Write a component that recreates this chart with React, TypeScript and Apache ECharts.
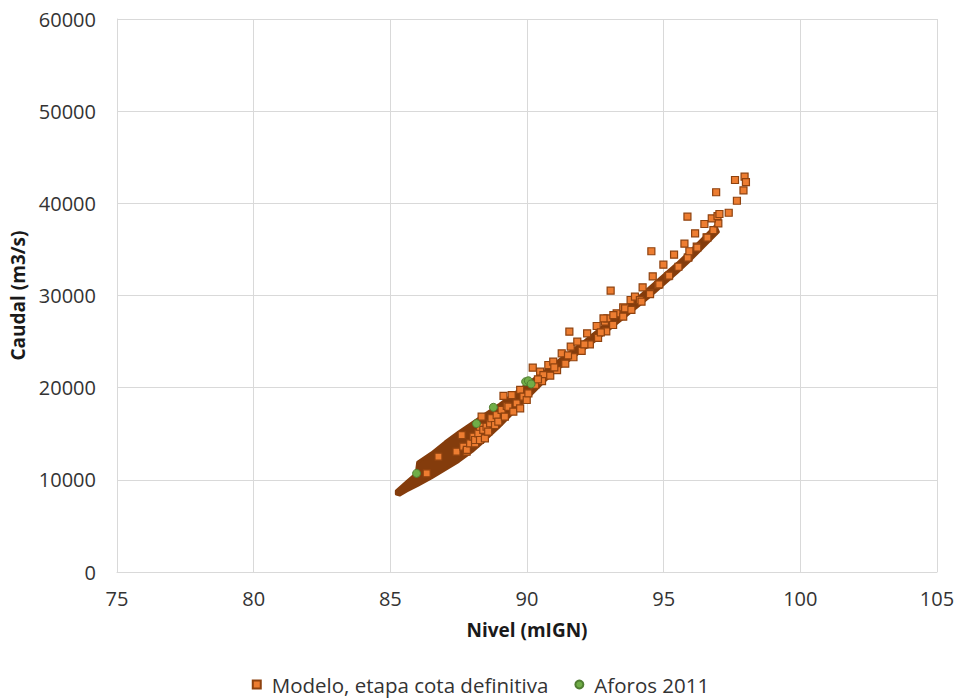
import React, { useEffect, useRef } from "react";
import * as echarts from "echarts";

// Tick labels / axis settings
const xTicks = [75, 80, 85, 90, 95, 100, 105];
const yTicks = [0, 10000, 20000, 30000, 40000, 50000, 60000];

const xName = "Nivel (mIGN)";
const yName = "Caudal (m3/s)";
const seriesModelo = "Modelo, etapa cota definitiva";
const seriesAforos = "Aforos 2011";

// Dense core of the model cloud (thousands of overlapping markers) – outline
const coreUpper: number[][] = [
  [85.22, 8800], [85.6, 9800], [85.95, 10700], [86.0, 11900], [86.5, 12900], [87.0, 14100],
  [87.5, 15200], [88.0, 16200], [88.5, 17200], [89.0, 18200], [89.5, 19300], [90.0, 20400],
  [90.5, 21500], [91.0, 22600], [91.5, 23700], [92.0, 24800], [92.5, 26000], [93.0, 27200],
  [93.5, 28400], [94.0, 29600], [94.5, 30900], [95.0, 32200], [95.5, 33500], [96.0, 34900],
  [96.5, 36400], [96.9, 37600],
];
const coreLower: number[][] = [
  [97.0, 36900], [96.5, 35400], [96.0, 33900], [95.5, 32500], [95.0, 31200], [94.5, 29900],
  [94.0, 28700], [93.5, 27500], [93.0, 26300], [92.5, 25100], [92.0, 24000], [91.5, 22900],
  [91.0, 21700], [90.5, 20300], [90.0, 18800], [89.5, 17300], [89.0, 15800], [88.5, 14400],
  [88.0, 13100], [87.5, 12000], [87.0, 11100], [86.5, 10200], [86.0, 9400], [85.6, 8800],
  [85.35, 8350], [85.22, 8450],
];

// Individually visible model markers
const modelo: number[][] = [
  [86.33, 10710], [86.76, 12510],
  [87.42, 13050], [87.61, 14860], [87.67, 13600], [87.79, 13050],
  [87.80, 13240], [87.92, 13960], [88.04, 14680], [88.10, 13960],
  [88.10, 14320], [88.22, 15050], [88.28, 14320], [88.28, 15760], [88.34, 16850],
  [88.40, 15410], [88.46, 14500], [88.52, 15760], [88.58, 15230],
  [88.65, 16130], [88.70, 16680], [88.83, 15950], [88.89, 17030], [88.95, 16310],
  [89.07, 17580], [89.14, 19100], [89.19, 16850], [89.26, 18010], [89.32, 17930],
  [89.44, 19200], [89.50, 17390], [89.62, 18300], [89.75, 19750], [89.75, 17760],
  [89.87, 19020], [89.99, 18660], [90.05, 19390],
  [90.21, 22170], [91.55, 26070], [93.06, 30520], [94.55, 34800], [95.87, 38550], [96.92, 41200],
  [97.61, 42530], [97.96, 42890], [98.01, 42310], [97.92, 41410], [97.68, 40280], [97.38, 38980],
  [90.48, 21730], [90.60, 21370], [90.78, 22460], [90.96, 22820], [91.27, 23730], [91.60, 24450],
  [91.84, 24990], [92.20, 25900], [92.55, 26690], [92.85, 27160], [92.94, 27520],
  [90.30, 20300], [90.55, 20700], [90.85, 21300], [91.10, 21900], [91.40, 22600], [91.70, 23300],
  [92.00, 24000], [92.30, 24700], [92.60, 25400], [92.90, 26100], [93.15, 26800], [90.40, 20900],
  [91.00, 22200], [91.50, 23500], [92.10, 24700], [92.70, 26000],
  [93.28, 28070], [93.52, 28720], [93.79, 29510], [93.95, 29870], [92.80, 27520], [93.16, 27880],
  [93.59, 28610], [93.52, 27700], [93.82, 28430], [94.13, 29510], [94.50, 30240], [94.80, 31140],
  [95.17, 32110], [95.54, 33120], [95.91, 34140], [96.21, 35300], [96.57, 36310], [96.82, 37100],
  [97.00, 37830],
  [94.23, 30890], [94.50, 30160], [94.19, 29330], [94.60, 32080], [94.84, 31210], [94.99, 33340],
  [95.20, 32150], [95.38, 34430], [95.76, 35620], [95.88, 34100], [95.94, 34800], [96.15, 36750],
  [96.23, 35190], [96.49, 37760], [96.60, 36270], [96.76, 38370], [96.97, 38620], [97.04, 38840],
];

// Field gaugings 2011
const aforos: number[][] = [
  [85.96, 10700], [88.15, 16100], [88.77, 17870], [89.95, 20650], [90.05, 20750], [90.15, 20400],
];

const FONT = "'Open Sans', 'Noto Sans', sans-serif";
const ORANGE = "#ED7D31";
const BROWN = "#843C0C";
const GREEN = "#70AD47";
const GREEN_DARK = "#507E32";
const GRID = "#D9D9D9";
const TEXT = "#333333";

export default function App() {
  const ref = useRef<HTMLDivElement>(null);
  useEffect(() => {
    if (!ref.current) return;
    const chart = echarts.init(ref.current, undefined, { renderer: "svg" });
    chart.setOption({
      animation: false,
      backgroundColor: "#ffffff",
      textStyle: { fontFamily: FONT },
      grid: { left: 117, right: 24, top: 19, bottom: 126, containLabel: false },
      xAxis: {
        type: "value",
        min: xTicks[0],
        max: xTicks[xTicks.length - 1],
        interval: 5,
        name: xName,
        nameLocation: "middle",
        nameGap: 48,
        nameTextStyle: { fontFamily: FONT, fontSize: 19, fontWeight: "bold", color: "#1a1a1a" },
        axisLine: { show: true, lineStyle: { color: GRID, width: 1 } },
        axisTick: { show: false },
        axisLabel: { fontFamily: FONT, fontSize: 20, color: TEXT, margin: 16 },
        splitLine: { show: true, lineStyle: { color: GRID, width: 1 } },
      },
      yAxis: {
        type: "value",
        min: yTicks[0],
        max: yTicks[yTicks.length - 1],
        interval: 10000,
        name: yName,
        nameLocation: "middle",
        nameRotate: 90,
        nameGap: 82,
        nameTextStyle: { fontFamily: FONT, fontSize: 19, fontWeight: "bold", color: "#1a1a1a" },
        axisLine: { show: true, lineStyle: { color: GRID, width: 1 } },
        axisTick: { show: false },
        axisLabel: {
          fontFamily: FONT,
          fontSize: 20,
          color: TEXT,
          margin: 21,
          formatter: (v: number) => String(v),
        },
        splitLine: { show: true, lineStyle: { color: GRID, width: 1 } },
      },
      legend: {
        data: [seriesModelo, seriesAforos],
        left: "center",
        top: 669,
        itemWidth: 8,
        itemHeight: 8,
        itemGap: 26,
        textStyle: { fontFamily: FONT, fontSize: 20.5, color: TEXT, padding: [0, 0, 0, 6] },
      },
      series: [
        {
          type: "custom",
          name: "core",
          silent: true,
          data: [[coreUpper[0][0], coreUpper[0][1]]],
          renderItem: (_params: any, api: any) => {
            const pts = coreUpper.concat(coreLower).map((p) => api.coord(p));
            return {
              type: "polygon",
              shape: { points: pts },
              style: { fill: BROWN, stroke: BROWN, lineWidth: 3, lineJoin: "round" },
            };
          },
          z: 1,
        },
        {
          type: "scatter",
          name: seriesModelo,
          symbol: "rect",
          symbolSize: 7,
          data: modelo,
          itemStyle: { color: ORANGE, borderColor: "#8E420F", borderWidth: 1.2, opacity: 1 },
          z: 2,
        },
        {
          type: "scatter",
          name: seriesAforos,
          symbol: "circle",
          symbolSize: 8,
          data: aforos,
          itemStyle: { color: GREEN, borderColor: GREEN_DARK, borderWidth: 1, opacity: 1 },
          z: 3,
        },
      ],
    });
    return () => chart.dispose();
  }, []);
  return (
    <div
      ref={ref}
      style={{ position: "fixed", left: 0, top: 0, width: 961, height: 698, background: "#fff" }}
    />
  );
}
